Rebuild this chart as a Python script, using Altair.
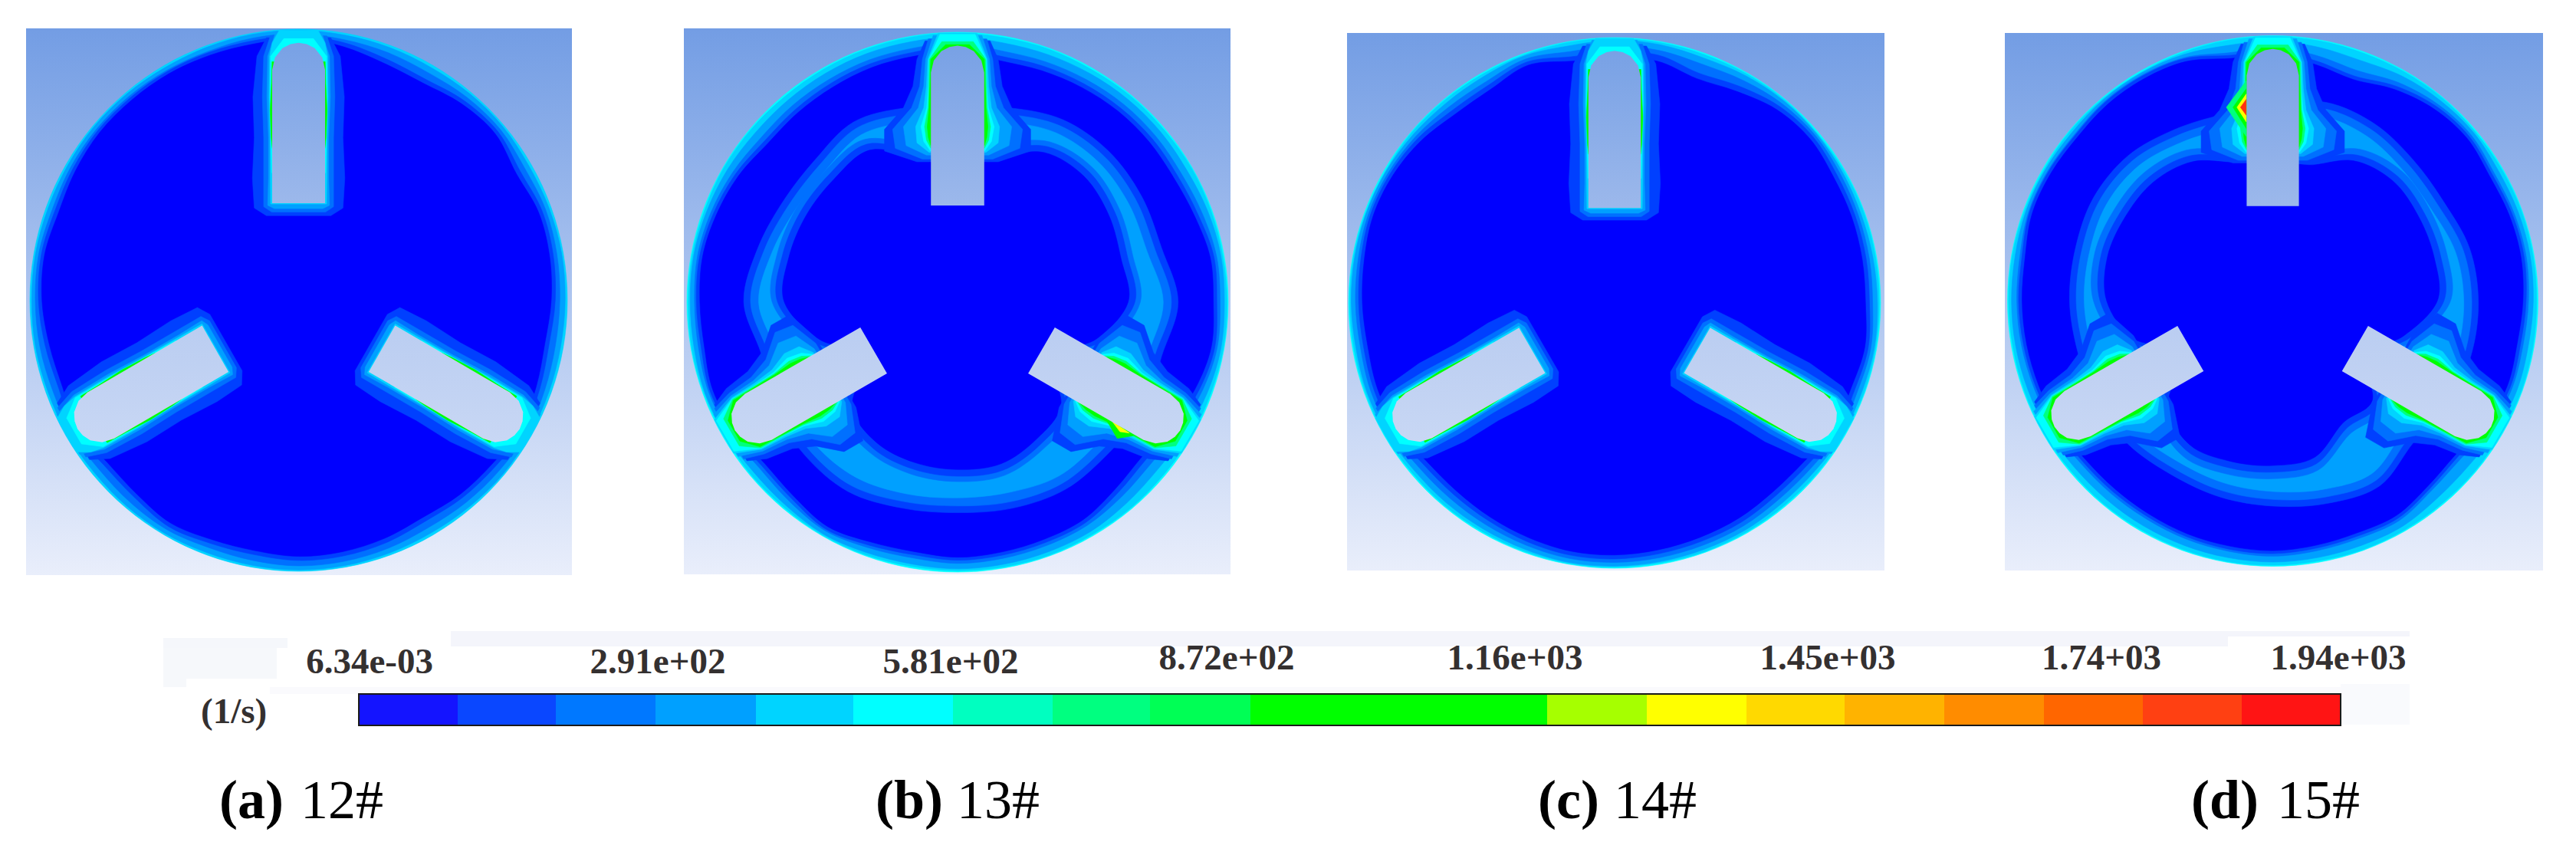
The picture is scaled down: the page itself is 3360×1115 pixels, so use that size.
import math
import altair as alt
import pandas as pd

# ---------- legend values ----------
legend_labels = ["6.34e-03", "2.91e+02", "5.81e+02", "8.72e+02", "1.16e+03", "1.45e+03", "1.74+03", "1.94e+03"]
label_x = [482, 858, 1240, 1600, 1976, 2384, 2741, 3050]
label_y = [878, 878, 878, 873, 873, 873, 873, 873]
band_edges = [468, 597, 725, 855, 986, 1113, 1243, 1373, 1500, 1631, 2018, 2148, 2278, 2406, 2536, 2666, 2795, 2924, 3053]
band_colors = ["#1414ff", "#0a47ff", "#0078ff", "#00a0ff", "#00d4ff", "#00ffff", "#00ffc0", "#00ff80", "#00ff55", "#00ff00",
               "#a6ff00", "#ffff00", "#ffd900", "#ffb300", "#ff8c00", "#ff6600", "#ff4012", "#ff1414"]
caption_a = ["(a)", "(b)", "(c)", "(d)"]
caption_b = ["12#", "13#", "14#", "15#"]
caption_x = [286, 1142, 2006, 2858]
caption_x2 = [392, 1248, 2105, 2970]

# ---------- panels ----------
frame_x0 = [34, 892, 1757, 2615]
frame_x1 = [746, 1605, 2458, 3317]
frame_y0 = [37, 37, 43, 43]
frame_y1 = [750, 749, 744, 744]
centre_x = [389.5, 1249, 2106, 2964.5]
centre_y = [391.5, 394, 395, 392.5]
radius_x = [350.5, 353, 347, 346]
radius_y = [353.5, 352, 346, 346]

# pale scan marks behind the colour bar
pale_x0 = [213, 213, 213, 588, 588, 352, 3053]
pale_x1 = [375, 361, 243, 3143, 2906, 3053, 3143]
pale_y0 = [832, 845, 885, 823, 830, 896, 892]
pale_y1 = [845, 885, 896, 830, 843, 905, 945]
pale_c = ["#f5f7fb", "#f6f8fb", "#f6f8fb", "#f4f5fb", "#f4f5fb", "#fafafd", "#f9fafd"]

# ---------- contour radii, thousandths of the disc radius, clockwise from the top ----------
DEEP = "#0000ff"; C1 = "#0040ff"; C2 = "#0070ff"; C3 = "#00a0ff"; C4 = "#00d4ff"; C5 = "#00ffff"
C6 = "#00ff80"; C7 = "#00ff00"; C8 = "#ffff00"; C9 = "#ff8c00"; C10 = "#ff3010"

disc = [1000] * 72
a_deep = [965,950,930,925,945,955,935,950,948,940,930,940,950,940,935,925,935,942,945,938,940,950,935,930,950,935,942,955,960,950,958,965,965,965,962,960]
b_deep = [930,908,912,918,923,924,922,932,948,945,952,935,910,890,905,930,935,940,945,938,945,960,940,930,950,961,950,952,957,948,935,915,917,920,925,925]
c_deep = [920,925,900,920,950,960,950,948,945,943,955,945,950,930,928,936,940,945,950,950,942,933,925,925,945,948,942,948,955,965,962,950,930,930,953,925]
d_deep = [925,906,888,920,945,955,943,948,950,943,935,940,925,900,910,933,930,935,941,938,935,929,925,925,935,938,942,945,948,965,965,961,968,968,960,928]

a_c3 = [996,993,992,990,993,994,990,992,994,992,990,991,993,995,992,990,992,994,995,993,992,994,993,991,993,992,994,993,994,992,993,995,994,992,994,996]
a_c2 = [982,976,972,968,976,980,972,978,976,972,970,974,980,976,972,968,974,978,980,975,972,978,974,970,976,974,978,980,982,976,980,982,982,980,978,982]
a_c1 = [975,965,948,942,960,968,952,964,962,955,946,955,965,955,950,942,952,958,960,953,955,965,950,946,964,950,958,968,972,965,970,975,975,975,973,972]
c_c4 = [997,996,995,996,997,995,996,997,996,995,996,997,995,996,995,996,997,995,996,997,996,995,996,995,997,996,995,996,997,996,995,997,996,995,996,997]
c_c3 = [990,988,982,988,992,991,988,985,986,988,991,988,990,984,983,987,988,990,992,993,988,985,984,983,988,990,987,990,992,993,992,988,984,985,991,984]
c_c2 = [968,966,958,968,980,984,978,974,972,970,978,972,976,966,964,970,972,975,978,978,972,966,962,962,972,975,970,974,978,984,982,976,966,964,978,962]
c_c1 = [945,948,922,942,966,974,965,962,960,958,968,960,964,948,946,954,956,960,965,965,958,948,942,942,960,962,958,962,968,976,974,965,948,948,966,942]
b_c4 = [997,995,996,994,996,995,997,996,995,996,997,995,996,994,996,995,997,996,995,994,996,997,995,996,994,996,997,995,996,995,997,996,994,995,996,997]
b_c3 = [982,975,976,978,980,980,978,984,988,986,988,982,972,965,972,982,984,986,988,985,987,992,985,982,988,992,988,988,990,986,982,976,976,978,980,980]
b_c2 = [960,945,948,952,956,956,954,962,972,970,974,962,945,932,942,956,960,964,968,962,968,978,965,956,970,978,972,972,976,970,960,948,950,952,955,955]
b_c1 = [944,925,930,934,938,940,938,946,962,958,965,950,926,908,922,944,948,952,956,950,958,972,952,944,962,972,962,965,968,960,948,930,932,936,940,940]
d_c4 = [997,996,995,996,997,995,996,997,996,995,996,997,995,996,995,996,997,995,996,997,996,995,996,995,997,996,995,996,997,996,995,997,996,995,996,997]
d_c3 = [980,972,965,978,985,988,982,984,985,982,978,980,974,965,968,980,980,982,984,982,980,978,976,976,980,982,984,985,986,990,990,988,992,992,988,978]
d_c2 = [955,940,925,950,968,975,964,968,970,964,958,960,948,925,932,955,952,956,962,958,955,950,948,948,956,958,962,965,968,980,980,976,984,984,976,950]
d_c1 = [938,920,902,934,958,966,955,960,962,955,948,952,936,912,922,945,942,946,952,950,946,940,938,938,946,950,954,958,960,976,976,972,980,980,972,940]

b_L1o = [720,745,780,790,785,780,815,780,800,790,800,790,780,790,810,800,780,750,790,765,745,745,770,745]
b_L2o = [695,720,755,765,760,755,790,755,775,765,775,765,755,765,785,775,755,725,765,740,720,720,745,720]
b_L3o = [665,690,725,735,730,725,760,730,745,735,745,730,725,735,750,745,725,695,735,710,690,690,715,690]
b_L2i = [600,615,685,705,690,670,675,580,450,590,630,665,665,660,645,600,450,580,685,690,690,690,695,610]
b_L1i = [575,590,665,685,670,650,655,555,425,565,610,645,645,640,625,575,425,555,665,670,670,670,675,585]
b_in  = [550,560,640,660,645,625,630,530,400,540,585,620,620,615,600,550,400,530,640,645,645,645,650,560]
d_L1o = [740,775,770,750,745,768,775,775,770,752,805,790,773,765,758,767,770,760,766,770,780,773,745,728]
d_L2o = [715,750,745,725,720,743,750,750,745,727,780,765,748,740,733,742,745,735,741,745,755,748,720,703]
d_L3o = [685,720,715,695,690,713,720,720,715,697,750,735,718,710,703,712,715,705,711,715,725,718,690,673]
d_L2i = [580,580,660,690,685,680,670,560,450,580,580,660,670,675,676,610,450,595,676,695,690,685,656,590]
d_L1i = [555,555,635,665,660,655,645,535,425,555,555,635,645,650,651,585,425,570,651,670,665,660,631,565]
d_in  = [530,530,610,640,635,630,620,510,400,530,530,610,620,625,626,560,400,545,626,645,640,635,606,540]

panel_rings = [
    [(C4, disc), (C3, a_c3), (C2, a_c2), (C1, a_c1), (DEEP, a_deep)],
    [(C5, disc), (C4, b_c4), (C3, b_c3), (C2, b_c2), (C1, b_c1), (DEEP, b_deep),
     (C1, b_L1o), (C2, b_L2o), (C3, b_L3o), (C2, b_L2i), (C1, b_L1i), (DEEP, b_in)],
    [(C5, disc), (C4, c_c4), (C3, c_c3), (C2, c_c2), (C1, c_c1), (DEEP, c_deep)],
    [(C5, disc), (C4, d_c4), (C3, d_c3), (C2, d_c2), (C1, d_c1), (DEEP, d_deep),
     (C1, d_L1o), (C2, d_L2o), (C3, d_L3o), (C2, d_L2i), (C1, d_L1i), (DEEP, d_in)],
]

# ---------- blade halos: distance along the blade, half width (thousandths) ----------
calm_halo = [
    (C1, [-968,-900,-750,-600,-450,-340,-312], [120,155,170,165,172,165,120]),
    (C2, [-975,-900,-750,-600,-450,-345,-325], [105,130,135,130,130,130,100]),
    (C3, [-990,-900,-750,-600,-450,-350,-338], [85,115,118,112,112,115,90]),
    (C4, [-996,-950,-900,-750,-600,-450,-355], [72,98,108,110,106,105,104]),
    (C5, [-965,-900,-750,-600,-470], [55,104,106,103,100]),
    (C7, [-880,-800,-700,-600,-560], [99,101,106,102,98]),
]
ring_halo = [
    (C1, [-968,-900,-800,-720,-640,-560,-520], [120,150,165,200,270,270,150]),
    (C2, [-975,-900,-800,-720,-640,-570,-530], [108,130,140,170,240,230,130]),
    (C3, [-988,-900,-800,-720,-650,-580,-545], [90,118,125,145,200,190,115]),
    (C4, [-996,-900,-800,-720,-650,-590,-555], [72,110,115,125,155,150,105]),
    (C5, [-992,-900,-800,-720,-650,-595,-560], [65,106,108,114,135,125,100]),
    (C6, [-965,-900,-800,-720,-650,-600,-570], [58,104,106,109,122,115,99]),
    (C7, [-954,-900,-800,-720,-650,-610,-580], [44,99,102,105,112,108,99]),
]
panel_halo = [calm_halo, ring_halo, calm_halo, ring_halo]
blade_turn = [0, -120, 120]

# blade outline along one side of the centre line, tip first
blade_v = [-950, -945, -930, -895, -850, -358]
blade_w = [0, 30, 60, 88, 98.5, 98.5]

# small hot spots: panel, colour, u, v (thousandths of the radius)
spot_panel = [3, 3, 3, 3, 1, 1]
spot_color = [C6, C7, C8, C10, C7, C8]
spot_u = [[-175,-100,-100], [-150,-100,-100], [-135,-100,-100], [-122,-100,-100], [540,650,590], [570,635,600]]
spot_v = [[-730,-830,-620], [-730,-800,-650], [-730,-780,-675], [-730,-760,-700], [420,495,505], [440,485,480]]

# blade fills, upper and lower colour
blade_top = ["#78a1e5", "#bacdf1", "#bacdf1"]
blade_bot = ["#9cb8eb", "#c8d7f4", "#c8d7f4"]

# ---------- building the outlines ----------
ring_rows = []
halo_rows = []
pid = 0
def add(store, points, level):
    global pid
    for i, (x, y) in enumerate(points):
        store.append({"pid": pid, "i": i, "x": x, "y": y, "level": level})
    pid += 1

def to_page(p, u, v, turn=0):
    a = math.radians(turn)
    xx = u * math.cos(a) - v * math.sin(a)
    yy = u * math.sin(a) + v * math.cos(a)
    return centre_x[p] + radius_x[p] * xx / 1000, centre_y[p] + radius_y[p] * yy / 1000

def side_pair(vs, ws):
    right = [(w, v) for v, w in zip(vs, ws)]
    left = [(-w, v) for v, w in zip(vs, ws)][::-1]
    return right + left

for p in range(4):
    for level, rr in panel_rings[p]:
        n = len(rr)
        pts = []
        for k, r in enumerate(rr):
            th = 2 * math.pi * k / n
            pts.append((centre_x[p] + radius_x[p] * r / 1000 * math.sin(th),
                        centre_y[p] - radius_y[p] * r / 1000 * math.cos(th)))
        add(ring_rows, pts, level)
    for level, vs, ws in panel_halo[p]:
        for turn in blade_turn:
            add(halo_rows, [to_page(p, u, v, turn) for u, v in side_pair(vs, ws)], level)
    for sp, sc, su, sv in zip(spot_panel, spot_color, spot_u, spot_v):
        if sp == p:
            add(halo_rows, [to_page(p, u, v) for u, v in zip(su, sv)], sc)

xs = alt.Scale(domain=[8, 3352], nice=False, zero=False)
ys = alt.Scale(domain=[1107, 8], nice=False, zero=False)
X = alt.X("x:Q", scale=xs, axis=None)
X2 = alt.X2("x2:Q")
Y = alt.Y("y:Q", scale=ys, axis=None)
Y2 = alt.Y2("y2:Q")

layers = []

pale = pd.DataFrame({"x": pale_x0, "x2": pale_x1, "y": pale_y0, "y2": pale_y1, "c": pale_c})
layers.append(alt.Chart(pale).mark_rect().encode(X, X2, Y, Y2, fill=alt.Fill("c:N", scale=None)))

frames = pd.DataFrame({"x": frame_x0, "x2": frame_x1, "y": frame_y0, "y2": frame_y1})
sky = alt.Gradient(gradient="linear", x1=0, x2=0, y1=0, y2=1,
                   stops=[alt.GradientStop(offset=0, color="#739de4"), alt.GradientStop(offset=1, color="#e9eefb")])
layers.append(alt.Chart(frames).mark_rect(fill=sky).encode(X, X2, Y, Y2))

layers.append(
    alt.Chart(pd.DataFrame(ring_rows)).mark_line(interpolate="cardinal-closed", strokeWidth=0.6).encode(
        X, Y, detail="pid:N", order=alt.Order("i:Q"),
        fill=alt.Fill("level:N", scale=None),
        stroke=alt.Stroke("level:N", scale=None),
    )
)
layers.append(
    alt.Chart(pd.DataFrame(halo_rows)).mark_line(interpolate="linear-closed", strokeWidth=0.6).encode(
        X, Y, detail="pid:N", order=alt.Order("i:Q"),
        fill=alt.Fill("level:N", scale=None),
        stroke=alt.Stroke("level:N", scale=None),
    )
)

blade_points = side_pair(blade_v, blade_w)
for p in range(4):
    for t, turn in enumerate(blade_turn):
        pts = [to_page(p, u, v, turn) for u, v in blade_points]
        d = pd.DataFrame({"x": [q[0] for q in pts], "y": [q[1] for q in pts], "i": range(len(pts))})
        grad = alt.Gradient(gradient="linear", x1=0, x2=0, y1=0, y2=1,
                            stops=[alt.GradientStop(offset=0, color=blade_top[t]),
                                   alt.GradientStop(offset=1, color=blade_bot[t])])
        layers.append(alt.Chart(d).mark_line(interpolate="linear-closed", fill=grad, strokeOpacity=0).encode(
            X, Y, order=alt.Order("i:Q")))

# colour bar
bar = pd.DataFrame({"x": band_edges[:-1], "x2": band_edges[1:], "y": [905] * 18, "y2": [946] * 18, "c": band_colors})
layers.append(alt.Chart(bar).mark_rect().encode(X, X2, Y, Y2, fill=alt.Fill("c:N", scale=None)))
box = pd.DataFrame({"x": [band_edges[0]], "x2": [band_edges[-1]], "y": [905], "y2": [946]})
layers.append(alt.Chart(box).mark_rect(fillOpacity=0, stroke="#1a1a1a", strokeWidth=2).encode(X, X2, Y, Y2))

# texts
labels = pd.DataFrame({"x": label_x, "y": label_y, "t": legend_labels})
layers.append(alt.Chart(labels).mark_text(font="Liberation Serif", fontSize=47, fontWeight="bold", color="#343030",
                                          align="center", baseline="alphabetic").encode(X, Y, text="t:N"))
unit = pd.DataFrame({"x": [262], "y": [943], "t": ["(1/s)"]})
layers.append(alt.Chart(unit).mark_text(font="Liberation Serif", fontSize=47, fontWeight="bold", color="#343030",
                                        align="left", baseline="alphabetic").encode(X, Y, text="t:N"))
cap1 = pd.DataFrame({"x": caption_x, "y": [1067] * 4, "t": caption_a})
layers.append(alt.Chart(cap1).mark_text(font="Liberation Serif", fontSize=72, fontWeight="bold", color="#000000",
                                        align="left", baseline="alphabetic").encode(X, Y, text="t:N"))
cap2 = pd.DataFrame({"x": caption_x2, "y": [1067] * 4, "t": caption_b})
layers.append(alt.Chart(cap2).mark_text(font="Liberation Serif", fontSize=72, color="#000000",
                                        align="left", baseline="alphabetic").encode(X, Y, text="t:N"))

chart = alt.layer(*layers).properties(
    width=3344, height=1099, padding=0, autosize=alt.AutoSizeParams(type="none"), background="white"
).configure_view(stroke=None)

chart.save("out.html", embed_options={"renderer": "svg", "actions": False})
